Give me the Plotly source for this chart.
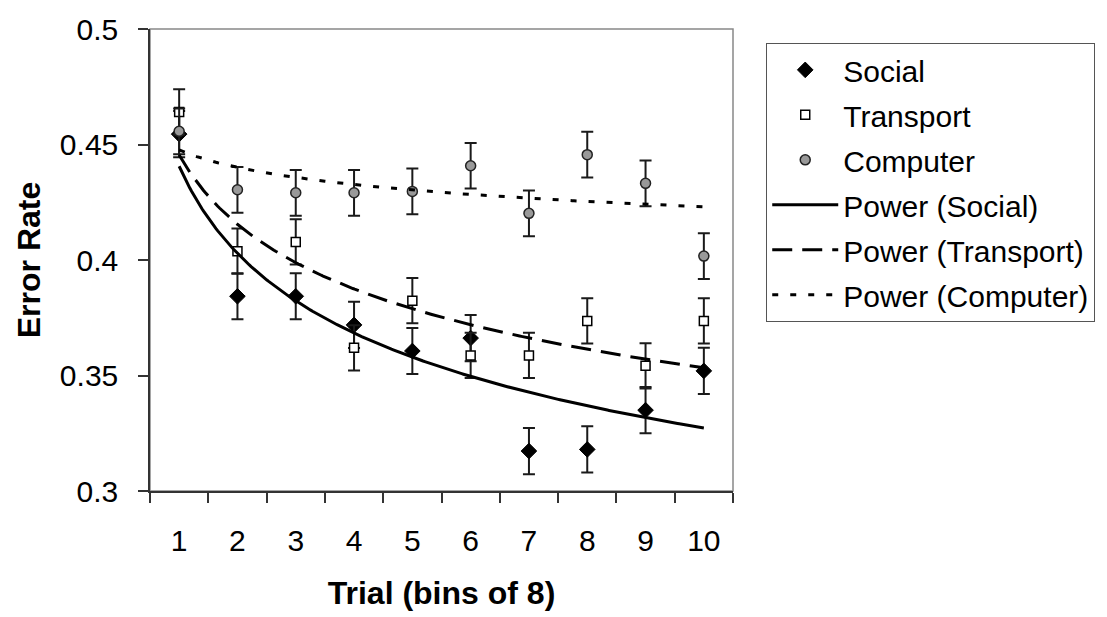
import numpy as np
import plotly.graph_objects as go

trials = [1, 2, 3, 4, 5, 6, 7, 8, 9, 10]
tick_labels = ["1", "2", "3", "4", "5", "6", "7", "8", "9", "10"]
social = [0.4545, 0.3843, 0.3843, 0.3719, 0.3606, 0.3662, 0.3173, 0.3180, 0.3350, 0.3520]
transport = [0.4641, 0.4038, 0.4078, 0.3620, 0.3824, 0.3587, 0.3587, 0.3736, 0.3542, 0.3736]
computer = [0.4557, 0.4304, 0.4291, 0.4291, 0.4297, 0.4408, 0.4202, 0.4456, 0.4332, 0.4017]
err_social = [0.0100] * 10
err_transport = [0.0098] * 10
err_computer = [0.0099] * 10
y_ticks = [0.3, 0.35, 0.4, 0.45, 0.5]
y_tick_text = ["0.3", "0.35", "0.4", "0.45", "0.5"]

FONT = "Liberation Sans, Arial, sans-serif"
FS = 30
TS = 32
fig = go.Figure()

def err(arr):
    return dict(type="data", array=arr, visible=True, color="#1a1a1a", thickness=2, width=6)

fig.add_trace(go.Scatter(x=trials, y=social, mode="markers", name="Social", legendgroup="g1",
                         error_y=err(err_social),
                         marker=dict(symbol="diamond", size=12, color="black",
                                     line=dict(color="black", width=1))))
fig.add_trace(go.Scatter(x=trials, y=transport, mode="markers", name="Transport", legendgroup="g2",
                         error_y=err(err_transport),
                         marker=dict(symbol="square", size=9, color="white",
                                     line=dict(color="black", width=1.5))))
fig.add_trace(go.Scatter(x=trials, y=computer, mode="markers", name="Computer", legendgroup="g3",
                         error_y=err(err_computer),
                         marker=dict(symbol="circle", size=10, color="#999999",
                                     line=dict(color="#222222", width=1.5))))

xs = np.linspace(1, 10, 300)
def power_fit(vals):
    b, ln_a = np.polyfit(np.log(trials), np.log(vals), 1)
    return np.exp(ln_a) * xs ** b

fig.add_trace(go.Scatter(x=xs, y=power_fit(social), mode="lines", name="Power (Social)",
                         legendgroup="g4", line=dict(color="black", width=3)))
fig.add_trace(go.Scatter(x=xs, y=power_fit(transport), mode="lines", name="Power (Transport)",
                         legendgroup="g5", line=dict(color="black", width=3, dash="20px,10px")))
fig.add_trace(go.Scatter(x=xs, y=power_fit(computer), mode="lines", name="Power (Computer)",
                         legendgroup="g6", line=dict(color="black", width=3, dash="6px,12px")))

fig.update_layout(
    width=1107, height=617,
    margin=dict(l=150, r=374, t=28, b=117),
    paper_bgcolor="white", plot_bgcolor="white",
    font=dict(family=FONT, size=FS, color="black"),
    showlegend=True,
    legend=dict(x=1.057, y=0.97, xanchor="left", yanchor="top",
                bordercolor="#555555", borderwidth=1, bgcolor="white",
                font=dict(size=FS), itemwidth=66, tracegroupgap=3),
    shapes=[dict(type="rect", xref="paper", yref="paper", x0=0, x1=1, y0=0, y1=1,
                 line=dict(color="#888888", width=1.5), layer="below")],
)
fig.update_xaxes(
    range=[0.5, 10.5], tickmode="array", tickvals=trials, ticktext=tick_labels,
    ticks="", showgrid=False, zeroline=False,
    showline=True, linecolor="#333333", linewidth=1.5,
    minor=dict(tickmode="array", tickvals=[i + 0.5 for i in range(0, 11)],
               ticks="outside", ticklen=10, tickcolor="#333333", tickwidth=1.5),
    ticklabelstandoff=22,
    title=dict(text="<b>Trial (bins of 8)</b>", font=dict(size=TS), standoff=26),
    tickfont=dict(size=FS),
)
fig.update_yaxes(
    range=[0.3, 0.5], tickmode="array", tickvals=y_ticks, ticktext=y_tick_text,
    ticks="outside", ticklen=10, tickcolor="#333333", tickwidth=1.5,
    showgrid=False, zeroline=False,
    showline=True, linecolor="#333333", linewidth=1.5,
    ticklabelstandoff=14,
    title=dict(text="<b>Error Rate</b>", font=dict(size=TS), standoff=10),
    tickfont=dict(size=FS),
)

fig.write_html("out.html")
